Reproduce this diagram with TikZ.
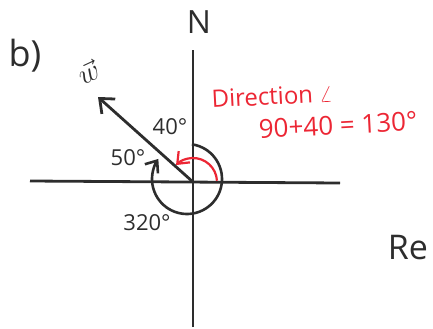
\documentclass[tikz,border=0pt]{standalone}
\usepackage{fontspec}
\setmainfont{Open Sans}
\usetikzlibrary{arrows.meta,positioning,calc}
\definecolor{pen}{RGB}{236,38,52}
\definecolor{ink}{RGB}{45,45,45}

\begin{document}
\begin{tikzpicture}[
 x=0.5pt,y=0.5pt,
 every node/.style={font=\fontsize{11}{13}\selectfont,align=center,text=ink,inner sep=1pt},
 axis/.style={line width=1.4pt,draw=ink},
 vec/.style={-{Straight Barb[length=6pt,width=10pt]},line width=1.4pt,draw=ink},
 turn/.style={-{Straight Barb[length=5pt,width=8pt]},line width=1.3pt,draw=ink},
 redturn/.style={-{Straight Barb[length=5pt,width=8pt]},line width=1.1pt,draw=pen},
 note/.style={text=pen,font=\fontsize{12}{14}\selectfont,rotate=3}
]
 \useasboundingbox (0,0) rectangle (433,328);
 % axes
 \coordinate (o) at (193,146);
 \coordinate (west) at (30,147);
 \coordinate (east) at (340,145);
 \coordinate (north) at (193,278);
 \coordinate (south) at (193,1);
 \draw[axis] (west) -- (east);
 \draw[axis] (south) -- (north);
 \node[font=\fontsize{16}{18}\selectfont] (nlab) at (199,306) {N};
 \node[font=\fontsize{17}{19}\selectfont] (relab) at (408,80) {Re};
 \node[font=\fontsize{18}{20}\selectfont] (part) at (25,272) {b)};
 % vector w
 \coordinate (tip) at (98,231);
 \draw[vec] (o) -- (tip);
 \node[rotate=25,font=\fontsize{15}{17}\selectfont] (wlab) at (88,256) {$\vec{w}$};
 % angles
 \coordinate (ring) at (187,149);
 \draw[turn] ([shift={(82:35)}]ring) arc[start angle=82,end angle=-215,radius=35];
 \draw[redturn] ([shift={(3:24)}]o) arc[start angle=3,end angle=135,radius=24];
 \node (forty) at (170,201) {40°};
 \node (fifty) at (128,170) {50°};
 \node (full) at (147,105) {320°};
 % direction note
 \node[note] (dir) at (272,232) {Direction {\large$\angle$}};
 \node[note,font=\fontsize{13}{15}\selectfont] (sum) at (338,203) {90+40 = 130°};
\end{tikzpicture}
\end{document}
